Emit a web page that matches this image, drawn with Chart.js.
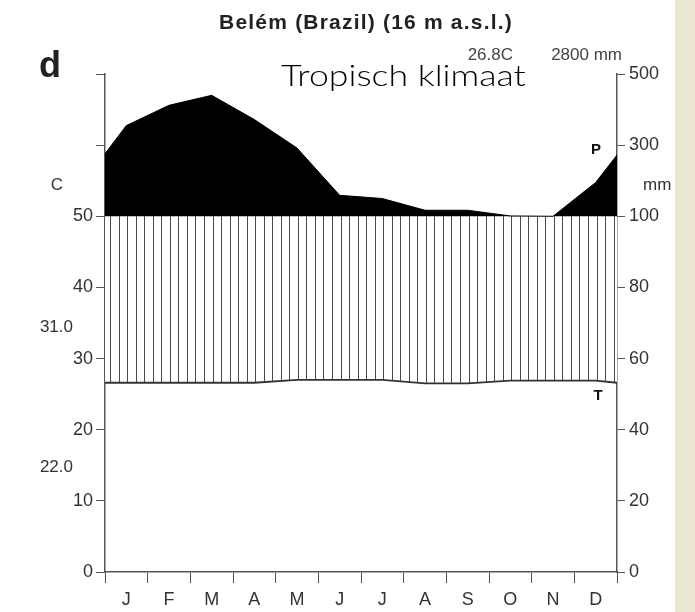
<!DOCTYPE html>
<html>
<head>
<meta charset="utf-8">
<title>Belém klimaatdiagram</title>
<script src="https://cdn.jsdelivr.net/npm/chart.js@4.4.1/dist/chart.umd.min.js"></script>
<style>
  html, body { margin: 0; padding: 0; background: #fff; }
  #wrap { width: 695px; height: 612px; }
</style>
</head>
<body>
<div id="wrap"><canvas id="myChart" width="695" height="612"></canvas></div>
<script>
// values
const months = ["J", "F", "M", "A", "M", "J", "J", "A", "S", "O", "N", "D"];
const precipMm = [355, 412, 440, 372, 292, 159, 150, 117, 117, 101, 100, 195];
const tempC = [26.6, 26.6, 26.6, 26.6, 27.0, 27.0, 27.0, 26.5, 26.5, 26.9, 26.9, 26.9];
// where the curves meet the left / right border of the plot
const precipEdgeMm = [276, 272];
const tempEdgeC = [26.6, 26.6];
const tempTicks = [0, 10, 20, 30, 40, 50];
const mmTickLabels = ["0", "20", "40", "60", "80", "100", "300", "500"];

// Walter-Lieth: up to 100 mm, 20 mm = 10 C; above 100 mm the scale is 10x compressed
function mmToAxis(p) {
  return p <= 100 ? p / 2 : 50 + (p - 100) / 20;
}

function series(values, edges, conv) {
  const pts = [{ x: 0, y: conv(edges[0]) }];
  values.forEach((v, i) => pts.push({ x: i + 0.5, y: conv(v) }));
  pts.push({ x: 12, y: conv(edges[1]) });
  return pts;
}

let hatch = null;
function hatchPattern(chart) {
  const area = chart.chartArea;
  if (!area) return "rgba(0,0,0,0)";
  if (hatch) return hatch;
  const c = document.createElement("canvas");
  c.width = chart.width;
  c.height = 4;
  const g = c.getContext("2d");
  g.fillStyle = "#fff";
  g.fillRect(0, 0, c.width, c.height);
  g.fillStyle = "#4a4a4a";
  const step = (area.right - area.left) / 60;
  for (let k = 0; k < 60; k++) {
    const x = Math.round(area.left + (k + 0.6) * step);
    g.fillRect(x, 0, 1, c.height);
  }
  hatch = chart.ctx.createPattern(c, "repeat");
  return hatch;
}

const labelFont = { family: "'Liberation Sans', Arial, sans-serif", size: 18 };
const axisColor = "#555";

const pagePlugin = {
  id: "page",
  beforeDraw(chart) {
    const ctx = chart.ctx;
    ctx.save();
    ctx.fillStyle = "#fff";
    ctx.fillRect(0, 0, chart.width, chart.height);
    ctx.fillStyle = "#ebe6cf";
    ctx.fillRect(675, 0, chart.width - 675, chart.height);
    ctx.restore();
  },
  afterDraw(chart) {
    const ctx = chart.ctx;
    ctx.save();
    ctx.fillStyle = "#222";
    ctx.textBaseline = "middle";

    ctx.textAlign = "center";
    ctx.letterSpacing = "1.2px";
    ctx.font = "bold 21px 'Liberation Sans', Arial, sans-serif";
    ctx.fillText("Belém (Brazil) (16 m a.s.l.)", 366, 23);
    ctx.letterSpacing = "0px";

    ctx.textAlign = "left";
    ctx.textBaseline = "alphabetic";
    ctx.font = "bold 36px 'Liberation Sans', Arial, sans-serif";
    ctx.fillText("d", 39, 77);

    ctx.fillStyle = "#444";
    ctx.font = "17px 'Liberation Sans', Arial, sans-serif";
    ctx.textAlign = "right";
    ctx.fillText("26.8C", 513, 60);
    ctx.fillText("2800 mm", 622, 60);

    ctx.fillStyle = "#000";
    ctx.textAlign = "left";
    ctx.textBaseline = "middle";
    ctx.font = "300 29px Lato, 'Open Sans', sans-serif";
    ctx.save();
    ctx.translate(281, 77);
    ctx.scale(1.23, 1);
    ctx.fillText("Tropisch klimaat", 0, 0);
    ctx.restore();

    ctx.fillStyle = "#333";
    ctx.font = "17px 'Liberation Sans', Arial, sans-serif";
    ctx.textAlign = "center";
    ctx.fillText("C", 57, 185);
    ctx.textAlign = "left";
    ctx.fillText("mm", 643, 185);
    ctx.textAlign = "right";
    ctx.fillText("31.0", 73, 327);
    ctx.fillText("22.0", 73, 467);

    ctx.fillStyle = "#111";
    ctx.textAlign = "center";
    ctx.font = "bold 15px 'Liberation Sans', Arial, sans-serif";
    ctx.fillText("P", 596, 150);
    ctx.fillText("T", 598, 396);
    ctx.restore();
  }
};

const ctx = document.getElementById("myChart").getContext("2d");
const myChart = new Chart(ctx, {
  type: "line",
  data: {
    datasets: [
      {
        label: "Neerslag (mm)",
        data: series(precipMm, precipEdgeMm, mmToAxis),
        borderColor: "#000",
        borderWidth: 1,
        backgroundColor: "#000",
        fill: { value: 50 },
        pointRadius: 0,
        tension: 0,
        yAxisID: "y",
      },
      {
        label: "Temperatuur (C)",
        data: series(tempC, tempEdgeC, (t) => t),
        borderColor: "#333",
        borderWidth: 1.8,
        backgroundColor: (c) => hatchPattern(c.chart),
        fill: { value: 50 },
        pointRadius: 0,
        tension: 0,
        yAxisID: "y",
      },
    ],
  },
  options: {
    responsive: false,
    animation: false,
    layout: { padding: { top: 74, left: 0, right: 0, bottom: 0 } },
    plugins: {
      legend: { display: false },
      tooltip: { enabled: false },
    },
    scales: {
      x: {
        type: "linear",
        min: 0,
        max: 12,
        afterFit: (s) => { s.height = 40; },
        ticks: {
          stepSize: 0.5,
          autoSkip: false,
          maxRotation: 0,
          padding: 6,
          color: "#333",
          font: labelFont,
          callback: (v) => (Number.isInteger(v) ? "" : months[Math.floor(v)]),
        },
        grid: {
          drawOnChartArea: false,
          tickLength: 11,
          tickColor: (c) => (Number.isInteger(c.tick.value) ? axisColor : "rgba(0,0,0,0)"),
        },
        border: { color: axisColor, width: 1.5 },
      },
      y: {
        position: "left",
        min: 0,
        max: 70,
        afterFit: (s) => { s.width = 105; },
        ticks: {
          stepSize: 10,
          padding: 3,
          color: "#333",
          font: labelFont,
          callback: (v) => (tempTicks.includes(v) ? String(v) : ""),
        },
        grid: { drawOnChartArea: false, tickLength: 9, color: axisColor },
        border: { color: axisColor, width: 1.5 },
      },
      y2: {
        position: "right",
        min: 0,
        max: 70,
        afterFit: (s) => { s.width = 78; },
        ticks: {
          stepSize: 10,
          padding: 4,
          color: "#333",
          font: labelFont,
          callback: (v) => mmTickLabels[v / 10],
        },
        grid: { drawOnChartArea: false, tickLength: 8, color: axisColor },
        border: { color: axisColor, width: 1.5 },
      },
    },
  },
  plugins: [pagePlugin],
});
</script>
</body>
</html>
